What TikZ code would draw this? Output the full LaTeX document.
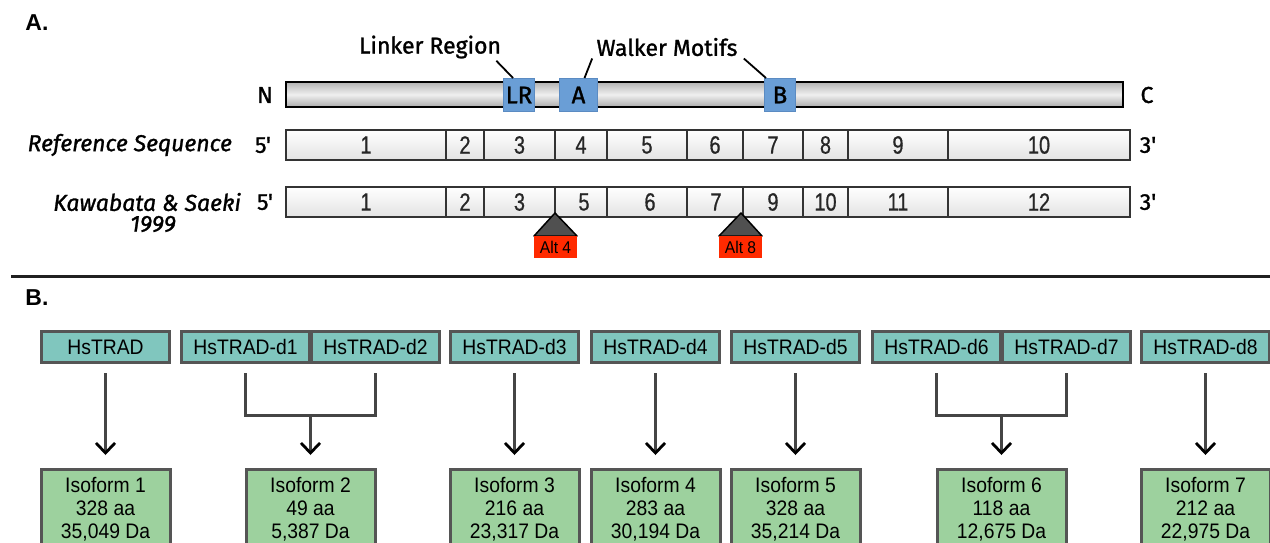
\documentclass[tikz,border=0pt]{standalone}
\usepackage{fontspec}
\setmainfont{Liberation Sans}
\newfontfamily\comicfont[FakeBold=1.2]{Fira Sans}
\newfontfamily\narrowfont[FakeStretch=0.8,FakeBold=0.6]{Liberation Sans}
\newfontfamily\condfont[FakeStretch=0.92]{Liberation Sans}
\usetikzlibrary{arrows.meta}
\definecolor{barline}{HTML}{333333}
\definecolor{motifblue}{HTML}{6A9ED6}
\definecolor{motifedge}{HTML}{5B8BC2}
\definecolor{altred}{HTML}{FF2A00}
\definecolor{tealbox}{HTML}{80C6BE}
\definecolor{greenbox}{HTML}{9DD19E}
\definecolor{boxedge}{HTML}{555555}
\definecolor{arrowgray}{HTML}{454545}
\definecolor{trigray}{HTML}{505050}

\begin{document}
\begin{tikzpicture}[x=0.5pt,y=-0.5pt,
  protbar/.style={draw=black,line width=0.75pt,top color=gray!60,bottom color=gray!65,middle color=gray!12},
  exonbar/.style={draw=barline,line width=1pt,top color=white,bottom color=gray!22},
  exonline/.style={draw=barline,line width=1pt},
  motif/.style={draw=motifedge,fill=motifblue,line width=0.5pt,minimum height=16.5pt,inner sep=0pt,font=\comicfont\fontsize{12}{12}\selectfont},
  exonnum/.style={font=\narrowfont\fontsize{12.5}{13}\selectfont,text=black!85},
  comic/.style={font=\comicfont\fontsize{11.5}{12}\selectfont},
  comicit/.style={font=\comicfont\itshape\fontsize{11.5}{12}\selectfont},
  callout/.style={comic,inner sep=1pt},
  leader/.style={draw=black,line width=0.9pt},
  altbox/.style={fill=altred,minimum width=21.5pt,minimum height=11pt,inner sep=0pt,font=\condfont\fontsize{8.5}{9}\selectfont},
  alttri/.style={fill=trigray,draw=black,line width=0.75pt,line join=round},
  panel/.style={font=\bfseries\fontsize{11.5}{12}\selectfont,inner sep=0pt},
  srcbox/.style={draw=boxedge,fill=tealbox,line width=1.5pt,minimum width=64pt,minimum height=15.5pt,inner sep=0pt,font=\condfont\fontsize{10.5}{12}\selectfont},
  isobox/.style={draw=boxedge,fill=greenbox,line width=1.5pt,minimum width=64.5pt,minimum height=40pt,inner sep=0pt,align=center,font=\condfont\fontsize{10.5}{11.5}\selectfont},
  link/.style={draw=arrowgray,line width=1.4pt},
  flow/.style={link,-{Straight Barb[length=5pt,width=9.5pt,line width=1.4pt,color=black]},shorten >=6.5pt}
]
\useasboundingbox (0,0) rectangle (1270,542);
\clip (0,0) rectangle (1270,542);

\node [panel,anchor=west] (pa) at (25,23) {A.};
\draw [protbar] (286,82) rectangle (1123,107);
\node [comic] (nterm) at (265,95) {N};
\node [comic] (cterm) at (1147,95) {C};
\node [motif,minimum width=15.5pt] (lr) at (519,95) {LR};
\node [motif,minimum width=19pt] (wa) at (578.5,95) {A};
\node [motif,minimum width=15.5pt] (wb) at (780,95) {B};
\node [callout] (linker) at (430,47) {Linker Region};
\node [callout] (walker) at (667,47) {Walker Motifs};
\draw [leader] ([xshift=-3.5pt]linker.south east) -- ([xshift=-3pt]lr.north);
\draw [leader] ([xshift=-1pt]walker.south west) -- ([xshift=3pt]wa.north);
\draw [leader] ([xshift=2pt]walker.south east) -- ([xshift=1pt]wb.north west);

\node [comicit,anchor=east] (refseq) at (239,145) {Reference Sequence};
\node [comic] (ref5) at (263,145) {5'};
\node [comic] (ref3) at (1148,145) {3'};
\draw [exonbar] (286,130) rectangle (1130,160);
\draw [exonline] (446,130) -- (446,160);
\draw [exonline] (484,130) -- (484,160);
\draw [exonline] (555,130) -- (555,160);
\draw [exonline] (607,130) -- (607,160);
\draw [exonline] (687,130) -- (687,160);
\draw [exonline] (743,130) -- (743,160);
\draw [exonline] (803,130) -- (803,160);
\draw [exonline] (848,130) -- (848,160);
\draw [exonline] (948,130) -- (948,160);
\node [exonnum] (r1) at (366,145) {1};
\node [exonnum] (r2) at (465,145) {2};
\node [exonnum] (r3) at (519.5,145) {3};
\node [exonnum] (r4) at (581,145) {4};
\node [exonnum] (r5) at (647,145) {5};
\node [exonnum] (r6) at (715,145) {6};
\node [exonnum] (r7) at (773,145) {7};
\node [exonnum] (r8) at (825.5,145) {8};
\node [exonnum] (r9) at (898,145) {9};
\node [exonnum] (r10) at (1039,145) {10};

\node [comicit,anchor=east] (kawa) at (248,202) {Kawabata \& Saeki};
\node [comicit] (kawayr) at (153,224) {1999};
\node [comic] (kaw5) at (265,202) {5'};
\node [comic] (kaw3) at (1148,202) {3'};
\draw [exonbar] (286,187) rectangle (1130,217);
\draw [exonline] (446,187) -- (446,217);
\draw [exonline] (484,187) -- (484,217);
\draw [exonline] (555,187) -- (555,217);
\draw [exonline] (607,187) -- (607,217);
\draw [exonline] (687,187) -- (687,217);
\draw [exonline] (743,187) -- (743,217);
\draw [exonline] (803,187) -- (803,217);
\draw [exonline] (848,187) -- (848,217);
\draw [exonline] (948,187) -- (948,217);
\node [exonnum] (k1) at (366,202) {1};
\node [exonnum] (k2) at (465,202) {2};
\node [exonnum] (k3) at (519.5,202) {3};
\node [exonnum] (k5) at (584,202) {5};
\node [exonnum] (k6) at (650,202) {6};
\node [exonnum] (k7) at (716,202) {7};
\node [exonnum] (k9) at (773,202) {9};
\node [exonnum] (k10) at (825.5,202) {10};
\node [exonnum] (k11) at (898,202) {11};
\node [exonnum] (k12) at (1039,202) {12};

\draw [alttri] (555,213) -- (577,236) -- (534,236) -- cycle;
\node [altbox] (alt4) at (555.5,247) {Alt 4};
\draw [alttri] (741,213) -- (762,236) -- (719,236) -- cycle;
\node [altbox] (alt8) at (740.5,247) {Alt 8};

\draw [line width=1.5pt,draw=gray!25!black] (11,276) -- (1270,276);
\node [panel,anchor=west] (pb) at (25,298) {B.};

\node [srcbox] (hstrad) at (105.5,347) {HsTRAD};
\node [srcbox] (d1) at (245.5,347) {HsTRAD-d1};
\node [srcbox] (d2) at (375.5,347) {HsTRAD-d2};
\node [srcbox] (d3) at (514.5,347) {HsTRAD-d3};
\node [srcbox] (d4) at (655.5,347) {HsTRAD-d4};
\node [srcbox] (d5) at (795.5,347) {HsTRAD-d5};
\node [srcbox] (d6) at (936.5,347) {HsTRAD-d6};
\node [srcbox] (d7) at (1066.5,347) {HsTRAD-d7};
\node [srcbox] (d8) at (1205.5,347) {HsTRAD-d8};

\node [isobox] (iso1) at (105.5,509.5) {Isoform 1\\328 aa\\35,049 Da};
\node [isobox] (iso2) at (310.5,509.5) {Isoform 2\\49 aa\\5,387 Da};
\node [isobox] (iso3) at (514.5,509.5) {Isoform 3\\216 aa\\23,317 Da};
\node [isobox] (iso4) at (655.5,509.5) {Isoform 4\\283 aa\\30,194 Da};
\node [isobox] (iso5) at (795.5,509.5) {Isoform 5\\328 aa\\35,214 Da};
\node [isobox] (iso6) at (1001.5,509.5) {Isoform 6\\118 aa\\12,675 Da};
\node [isobox] (iso7) at (1205.5,509.5) {Isoform 7\\212 aa\\22,975 Da};

\coordinate (j12) at (310.5,415.5);
\coordinate (j67) at (1001.5,415.5);
\draw [flow,shorten <=4.5pt] (hstrad) -- (iso1);
\draw [link] ([yshift=-4.5pt]d1.south) |- (j12) -| ([yshift=-4.5pt]d2.south);
\draw [flow] (j12) -- (iso2);
\draw [flow,shorten <=4.5pt] (d3) -- (iso3);
\draw [flow,shorten <=4.5pt] (d4) -- (iso4);
\draw [flow,shorten <=4.5pt] (d5) -- (iso5);
\draw [link] ([yshift=-4.5pt]d6.south) |- (j67) -| ([yshift=-4.5pt]d7.south);
\draw [flow] (j67) -- (iso6);
\draw [flow,shorten <=4.5pt] (d8) -- (iso7);
\end{tikzpicture}
\end{document}
